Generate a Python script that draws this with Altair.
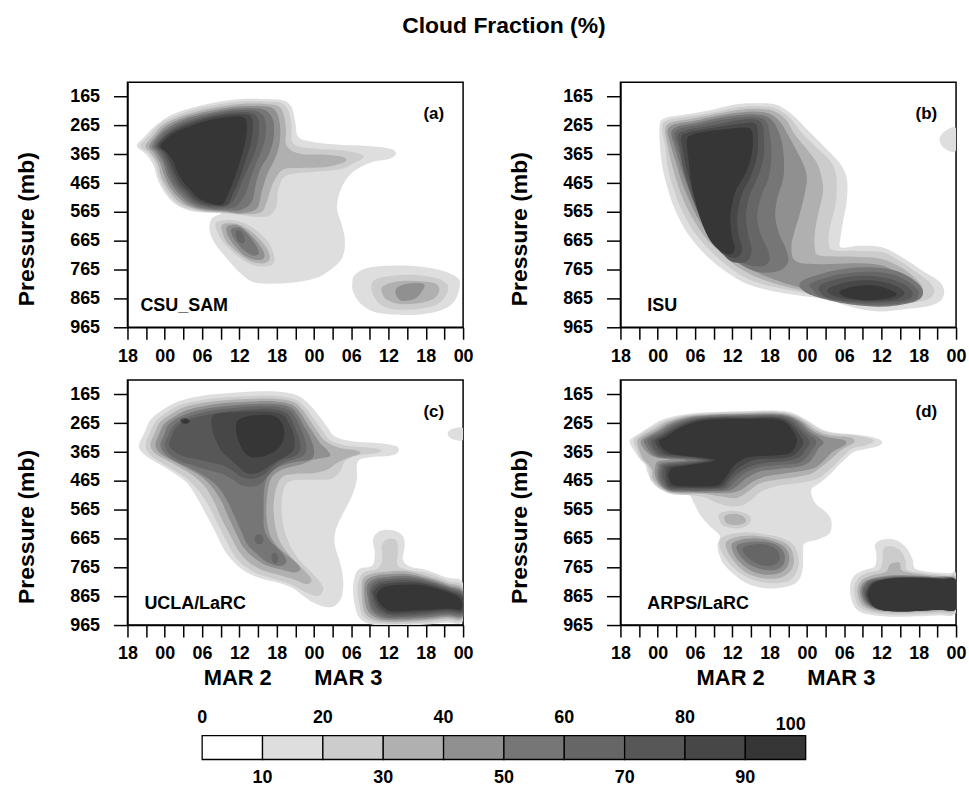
import json
import altair as alt
import pandas as pd

FONT = "Liberation Sans"

# ---------------- data ----------------
HOURS = 54            # 18Z Mar 1 -> 00Z Mar 4
P_MIN, P_MAX = 115, 965

# Filled-contour outlines: (hours since 18Z Mar 1, pressure in mb)
# ---- panel (a) CSU_SAM ----
A1_MAIN = [(1.5, 336), (2.7, 305), (4.5, 265), (6.9, 230), (10.1, 205), (13.9, 186), (18.2, 173),
           (22.4, 173), (25.1, 178), (26.4, 201), (27.0, 253), (27.5, 305), (29.9, 322), (34.2, 332),
           (38.5, 336), (42.2, 345), (43.2, 363), (42.2, 380), (39.5, 391), (36.9, 417), (35.3, 449),
           (34.2, 495), (33.7, 553), (34.5, 610), (35.0, 668), (34.5, 726), (32.6, 766), (30.2, 795),
           (26.7, 810), (22.4, 814), (20.0, 806), (17.9, 772), (16.0, 726), (14.2, 679), (13.2, 628),
           (13.6, 587), (15.0, 570), (12.3, 567), (9.6, 558), (7.5, 535), (5.9, 495), (4.8, 449),
           (4.2, 403), (2.9, 363)]
A1_BR = [(36.6, 783), (38.5, 760), (42.7, 751), (47.0, 754), (50.7, 769), (53.2, 795), (53.4, 829),
         (52.6, 875), (50.7, 904), (47.0, 921), (42.7, 921), (39.5, 910), (37.4, 881), (36.3, 841),
         (36.2, 806)]
A2_MAIN = [(2.1, 336), (3.5, 299), (5.1, 262), (7.5, 234), (10.7, 209), (14.4, 193), (18.2, 182),
           (22.4, 182), (24.8, 188), (25.9, 213), (26.4, 265), (26.7, 328), (29.9, 345), (34.2, 351),
           (37.4, 363), (37.9, 378), (36.3, 397), (34.2, 417), (29.9, 426), (25.6, 438), (24.3, 484),
           (24.0, 541), (23.0, 576), (20.8, 582), (18.7, 576), (16.0, 570), (12.3, 564), (9.6, 553),
           (7.7, 530), (6.1, 489), (5.1, 443), (4.5, 397), (3.3, 359)]
A2_LOW = [(14.2, 605), (16.0, 593), (18.2, 599), (20.3, 622), (22.4, 662), (23.5, 708), (23.5, 743),
          (22.2, 754), (20.3, 749), (18.2, 726), (16.0, 685), (14.7, 645)]
A2_BR = [(39.5, 806), (41.7, 789), (45.9, 783), (49.7, 795), (51.5, 818), (51.3, 852), (49.7, 887),
         (46.5, 902), (42.7, 902), (40.6, 884), (39.4, 846)]
A3_MAIN = [(2.9, 336), (4.2, 299), (5.6, 265), (8.0, 238), (11.2, 216), (15.0, 199), (18.2, 190),
           (22.2, 190), (24.3, 198), (25.1, 224), (25.5, 276), (25.6, 334), (27.8, 363), (32.0, 366),
           (34.7, 374), (35.0, 391), (32.0, 409), (27.8, 412), (25.1, 417), (23.5, 461), (22.4, 530),
           (21.4, 567), (18.2, 573), (16.0, 567), (12.3, 562), (9.9, 548), (8.0, 524), (6.5, 484),
           (5.4, 440), (4.9, 397), (3.7, 359)]
A3_LOW = [(15.2, 610), (17.1, 605), (18.7, 616), (20.6, 645), (22.4, 691), (22.9, 726), (21.9, 743),
          (20.0, 737), (18.2, 714), (16.3, 679), (15.4, 645)]
A3_BR = [(41.1, 823), (43.3, 806), (46.5, 804), (49.4, 812), (50.2, 835), (49.4, 864), (47.0, 881),
         (43.8, 884), (41.7, 869), (41.0, 846)]
A4_MAIN = [(3.5, 336), (4.7, 299), (6.1, 268), (8.5, 242), (11.8, 221), (15.5, 205), (18.4, 198),
           (21.9, 198), (23.5, 207), (24.3, 236), (24.6, 288), (24.3, 345), (23.5, 391), (22.4, 438),
           (21.6, 495), (20.8, 553), (18.2, 569), (16.0, 564), (12.6, 558), (10.1, 544), (8.4, 518),
           (6.9, 481), (5.9, 438), (5.3, 397), (4.3, 359)]
A4_LOW = [(16.0, 616), (17.6, 610), (19.0, 628), (20.6, 662), (21.9, 702), (21.9, 726), (20.6, 731),
          (18.7, 714), (17.1, 679), (16.1, 645)]
A4_BR = [(43.3, 829), (44.9, 814), (47.3, 812), (47.8, 823), (47.0, 852), (45.9, 869), (44.1, 873),
         (43.2, 852)]
A5_MAIN = [(4.0, 336), (5.1, 299), (6.7, 271), (9.1, 245), (12.3, 226), (15.8, 211), (18.7, 205),
           (21.4, 207), (22.7, 221), (23.5, 253), (23.5, 311), (22.7, 368), (21.4, 415), (20.6, 472),
           (20.0, 530), (18.2, 558), (16.0, 560), (12.8, 555), (10.4, 539), (8.8, 512), (7.4, 478),
           (6.3, 435), (5.8, 397), (4.8, 359)]
A5_LOW = [(16.8, 622), (18.1, 620), (19.2, 639), (20.6, 679), (21.1, 708), (20.2, 716), (18.7, 697),
          (17.4, 666), (16.7, 639)]
A6_MAIN = [(4.4, 336), (5.4, 302), (7.1, 274), (9.5, 250), (12.6, 230), (15.9, 216), (18.7, 212),
           (20.9, 216), (22.0, 236), (22.3, 276), (21.9, 334), (20.8, 391), (19.9, 443), (19.0, 501),
           (17.6, 544), (15.8, 553), (13.1, 550), (10.7, 534), (9.2, 507), (7.7, 474), (6.7, 433),
           (6.1, 397), (5.2, 359)]
A6_LOW = [(17.5, 631), (18.3, 633), (18.8, 654), (18.7, 674), (17.9, 668), (17.5, 651)]
A7_MAIN = [(4.7, 336), (5.8, 304), (7.4, 277), (9.8, 254), (12.8, 235), (16.0, 222), (18.7, 219),
           (20.3, 224), (21.1, 247), (21.1, 299), (20.6, 351), (19.5, 409), (18.4, 461), (17.4, 512),
           (16.0, 544), (13.4, 546), (11.0, 530), (9.5, 502), (8.1, 470), (7.1, 430), (6.5, 396),
           (5.6, 359)]
A8_MAIN = [(5.0, 336), (6.0, 306), (7.6, 281), (10.1, 259), (13.1, 239), (16.1, 228), (18.4, 226),
           (19.8, 232), (20.2, 265), (19.9, 322), (19.1, 380), (18.2, 438), (17.1, 495), (16.0, 539),
           (13.6, 541), (11.2, 524), (9.9, 497), (8.5, 466), (7.5, 426), (6.9, 395), (6.0, 359)]
A9_MAIN = [(5.3, 336), (6.4, 309), (8.0, 285), (10.4, 265), (13.4, 245), (16.3, 235), (18.2, 234),
           (19.1, 247), (19.2, 288), (18.7, 345), (17.9, 403), (17.0, 461), (16.0, 512), (15.2, 539),
           (13.6, 537), (11.5, 518), (10.3, 493), (9.0, 461), (7.9, 421), (7.4, 391), (6.3, 359)]

PANEL_A_LEVELS = {
    1: [A1_MAIN, A1_BR], 2: [A2_MAIN, A2_LOW, A2_BR], 3: [A3_MAIN, A3_LOW, A3_BR],
    4: [A4_MAIN, A4_LOW, A4_BR], 5: [A5_MAIN, A5_LOW], 6: [A6_MAIN, A6_LOW],
    7: [A7_MAIN], 8: [A8_MAIN], 9: [A9_MAIN],
}

# ---- panel (b) ISU ----
B1_MAIN = [(6.3, 265), (7.2, 239), (10.7, 226), (15.0, 209), (18.2, 193), (21.4, 188), (25.1, 193),
           (27.8, 230), (30.2, 282), (32.6, 334), (34.7, 380), (35.9, 417), (36.5, 461), (36.4, 530),
           (35.8, 599), (35.4, 656), (35.5, 688), (38.5, 682), (42.2, 688), (45.4, 723), (48.6, 769),
           (51.3, 806), (52.1, 841), (51.4, 875), (49.1, 894), (45.4, 903), (41.7, 910), (37.4, 896),
           (33.1, 869), (28.8, 855), (24.0, 837), (20.3, 814), (17.1, 774), (14.4, 728), (12.2, 679),
           (10.3, 622), (8.7, 553), (7.6, 484), (6.8, 415), (6.4, 345)]
B1_SMALL = [(51.4, 305), (52.6, 279), (54.0, 276), (54.0, 351), (52.6, 351), (51.6, 332)]
B2_MAIN = [(6.7, 271), (7.7, 246), (11.0, 234), (15.2, 218), (18.4, 203), (21.4, 198), (24.8, 204),
           (27.2, 237), (29.1, 288), (31.5, 340), (33.7, 386), (34.6, 426), (34.8, 472), (34.6, 541),
           (33.8, 610), (33.5, 662), (34.2, 697), (38.5, 700), (42.2, 705), (45.1, 737), (47.8, 777),
           (49.9, 812), (50.5, 843), (49.4, 869), (45.9, 884), (41.7, 894), (37.4, 881), (33.1, 858),
           (28.8, 843), (24.3, 823), (20.7, 799), (17.7, 760), (15.2, 714), (13.0, 666), (11.1, 608),
           (9.5, 541), (8.4, 474), (7.6, 409), (7.2, 340)]
B3_MAIN = [(7.2, 276), (8.3, 253), (11.3, 242), (15.5, 224), (18.6, 212), (21.4, 207), (24.5, 214),
           (26.6, 244), (28.0, 294), (29.9, 345), (31.5, 391), (32.3, 438), (32.6, 495), (31.9, 564),
           (31.3, 633), (31.3, 691), (32.1, 716), (37.4, 720), (41.7, 726), (44.9, 754), (47.3, 792),
           (48.6, 827), (48.1, 858), (45.4, 875), (41.7, 884), (37.4, 875), (33.1, 852), (28.8, 835),
           (24.7, 812), (21.3, 785), (18.4, 749), (15.9, 702), (13.7, 654), (11.9, 597), (10.3, 532),
           (9.2, 468), (8.3, 403), (7.6, 336)]
B4_MAIN = [(7.6, 282), (8.8, 260), (11.8, 249), (15.8, 231), (18.7, 221), (21.4, 216), (24.0, 224),
           (25.7, 253), (27.0, 299), (28.3, 351), (29.5, 403), (30.0, 449), (29.6, 507), (28.8, 576),
           (28.0, 633), (27.5, 691), (28.3, 737), (32.1, 746), (37.4, 743), (41.7, 749), (44.6, 774),
           (46.7, 806), (47.8, 838), (47.0, 864), (44.3, 875), (40.6, 878), (36.9, 871), (32.6, 850),
           (28.8, 827), (25.1, 802), (21.9, 774), (19.1, 739), (16.6, 694), (14.4, 647), (12.6, 591),
           (11.1, 526), (9.9, 463), (9.0, 397), (8.1, 334)]
B5_MAIN = [(8.2, 288), (9.4, 267), (12.2, 256), (16.0, 238), (18.8, 229), (21.4, 226), (23.7, 235),
           (25.0, 265), (25.9, 317), (26.3, 380), (26.2, 449), (25.3, 512), (24.9, 576), (25.5, 639),
           (26.6, 691), (27.0, 737), (25.6, 769), (22.4, 774), (19.5, 749), (17.1, 705), (15.1, 656),
           (13.2, 599), (11.8, 532), (10.6, 466), (9.6, 401), (8.7, 336)]
B5_ARM = [(29.1, 806), (34.2, 769), (39.5, 757), (44.3, 769), (47.5, 806), (48.7, 843), (47.5, 875),
          (42.7, 893), (37.4, 887), (32.6, 866), (29.6, 841)]
B6_MAIN = [(8.7, 294), (9.9, 274), (12.6, 262), (16.3, 246), (19.0, 237), (21.6, 235), (23.3, 247),
           (24.0, 288), (24.3, 368), (23.8, 449), (22.7, 507), (22.0, 576), (22.5, 639), (23.6, 691),
           (24.0, 731), (22.7, 754), (19.8, 743), (17.6, 702), (15.7, 654), (13.9, 599), (12.4, 535),
           (11.2, 466), (10.1, 403), (9.2, 340)]
B6_ARM = [(30.7, 812), (35.3, 781), (40.1, 772), (44.3, 785), (47.0, 818), (48.0, 846), (47.0, 873),
          (42.2, 887), (36.9, 880), (32.3, 858), (31.0, 835)]
B7_MAIN = [(9.2, 299), (10.4, 282), (13.0, 271), (16.7, 256), (19.2, 246), (21.8, 244), (22.9, 265),
           (23.1, 317), (23.0, 380), (22.0, 449), (20.8, 507), (20.2, 576), (20.5, 639), (21.1, 697),
           (20.3, 737), (17.9, 737), (16.0, 697), (14.5, 651), (13.1, 597), (11.9, 535), (10.8, 466),
           (10.0, 405), (9.6, 345)]
B7_ARM = [(32.1, 820), (36.1, 792), (40.5, 787), (44.2, 803), (46.5, 829), (47.0, 855), (45.7, 872),
          (41.1, 880), (36.3, 875), (32.9, 858)]
B8_MAIN = [(9.8, 305), (10.8, 290), (13.4, 279), (17.1, 265), (19.5, 258), (21.5, 256), (22.1, 282),
           (22.1, 345), (21.8, 391), (20.8, 449), (19.6, 501), (18.8, 576), (19.0, 645), (19.6, 694),
           (18.7, 723), (16.6, 712), (15.1, 675), (13.7, 622), (12.6, 558), (11.5, 484), (10.7, 420),
           (10.1, 357)]
B8_ARM = [(33.4, 832), (36.9, 806), (40.9, 803), (43.9, 818), (45.7, 843), (44.6, 866), (40.9, 875),
          (36.9, 869), (34.2, 855)]
B9_MAIN = [(10.7, 317), (11.5, 297), (14.0, 285), (17.6, 276), (19.9, 272), (21.1, 282), (21.3, 328),
           (20.9, 386), (19.9, 440), (18.5, 495), (17.7, 576), (17.9, 645), (18.4, 691), (17.6, 712),
           (16.0, 698), (14.5, 666), (13.2, 608), (12.2, 541), (11.4, 466), (11.0, 391)]
B9_ARM = [(35.3, 841), (37.9, 822), (41.1, 821), (43.3, 835), (44.4, 852), (42.7, 866), (39.5, 871),
          (36.3, 861)]

PANEL_B_LEVELS = {
    1: [B1_MAIN, B1_SMALL], 2: [B2_MAIN], 3: [B3_MAIN], 4: [B4_MAIN],
    5: [B5_MAIN, B5_ARM], 6: [B6_MAIN, B6_ARM], 7: [B7_MAIN, B7_ARM],
    8: [B8_MAIN, B8_ARM], 9: [B9_MAIN, B9_ARM],
}

# ---- panel (c) UCLA/LaRC ----
C1_MAIN = [(1.9, 336), (2.7, 299), (3.7, 253), (5.3, 224), (8.0, 190), (11.8, 170), (16.0, 161),
           (20.3, 155), (24.0, 155), (27.2, 167), (29.1, 196), (30.7, 236), (32.1, 276), (33.4, 311),
           (36.3, 328), (40.6, 334), (43.3, 345), (43.5, 366), (42.2, 378), (39.5, 382), (37.4, 391),
           (36.9, 415), (36.9, 461), (36.3, 507), (35.3, 553), (34.2, 599), (33.4, 645), (33.4, 691),
           (34.2, 749), (34.7, 806), (34.5, 864), (33.4, 898), (31.8, 902), (29.9, 887), (28.3, 864),
           (26.7, 838), (24.6, 820), (21.9, 806), (19.2, 783), (17.1, 746), (15.5, 702), (14.2, 645),
           (12.8, 587), (11.2, 524), (9.6, 472), (7.5, 438), (5.3, 409), (3.2, 382), (2.0, 357)]
C1_SMALL = [(51.6, 294), (52.6, 282), (54.0, 282), (54.0, 322), (52.6, 322), (51.7, 311)]
C1_BR = [(36.6, 795), (37.4, 769), (39.4, 758), (39.8, 714), (39.5, 668), (40.6, 639), (42.7, 636),
         (44.3, 656), (44.6, 691), (44.3, 737), (45.4, 762), (48.1, 774), (51.3, 800), (54.0, 820),
         (54.0, 950), (51.3, 956), (47.0, 965), (42.7, 967), (39.5, 964), (37.4, 942), (36.6, 898),
         (36.3, 841)]
C2_MAIN = [(2.9, 340), (3.6, 299), (4.5, 259), (6.1, 230), (8.5, 201), (12.0, 184), (16.0, 175),
           (20.3, 170), (24.0, 170), (27.0, 182), (28.6, 209), (29.9, 247), (31.3, 288), (32.7, 325),
           (35.3, 343), (39.5, 351), (40.9, 360), (39.5, 371), (36.9, 378), (35.0, 397), (34.2, 432),
           (32.6, 458), (28.8, 461), (26.2, 466), (25.1, 495), (24.8, 553), (25.1, 622), (26.2, 691),
           (27.8, 743), (29.9, 789), (31.5, 835), (30.7, 864), (28.8, 852), (26.2, 823), (23.5, 804),
           (21.1, 789), (18.8, 760), (17.1, 720), (15.8, 668), (14.4, 610), (13.1, 553), (11.5, 501),
           (9.6, 458), (7.2, 424), (5.1, 397), (3.5, 371)]
C2_BR = [(37.3, 804), (38.2, 781), (40.2, 769), (41.0, 737), (40.9, 691), (41.9, 666), (43.3, 673),
         (43.5, 714), (43.5, 758), (45.4, 774), (48.3, 785), (51.6, 812), (54.0, 832), (54.0, 944),
         (51.3, 949), (47.0, 958), (42.7, 961), (39.8, 956), (37.9, 935), (37.3, 893), (37.0, 841)]
C3_MAIN = [(3.7, 340), (4.4, 299), (5.2, 262), (6.8, 236), (9.1, 209), (12.4, 193), (16.3, 184),
           (20.3, 180), (23.9, 180), (26.7, 191), (28.2, 219), (29.4, 256), (30.6, 294), (31.9, 328),
           (34.2, 351), (36.9, 359), (37.4, 371), (35.3, 386), (33.7, 403), (32.1, 426), (29.9, 438),
           (27.2, 440), (25.1, 449), (24.0, 484), (23.5, 553), (23.8, 622), (24.6, 679), (26.2, 726),
           (28.0, 766), (29.6, 806), (28.8, 823), (26.7, 806), (24.0, 789), (21.6, 774), (19.5, 746),
           (17.9, 708), (16.6, 656), (15.2, 599), (14.0, 541), (12.6, 489), (10.7, 449), (8.3, 417),
           (6.1, 391), (4.4, 368)]
C3_BR = [(37.8, 812), (39.0, 789), (41.1, 781), (44.3, 777), (48.1, 795), (51.6, 820), (54.0, 841),
         (54.0, 940), (51.3, 942), (47.0, 951), (42.7, 955), (40.1, 949), (38.4, 928), (37.8, 887)]
C4_MAIN = [(4.5, 340), (5.1, 302), (5.9, 267), (7.5, 242), (9.6, 219), (12.8, 203), (16.6, 193),
           (20.3, 189), (23.8, 189), (26.4, 200), (27.8, 228), (28.8, 262), (29.9, 299), (31.0, 334),
           (32.1, 357), (32.6, 378), (31.3, 386), (29.9, 391), (28.3, 405), (26.2, 417), (24.3, 432),
           (23.0, 461), (22.4, 530), (22.4, 599), (23.0, 656), (24.3, 697), (26.2, 731), (27.8, 766),
           (27.0, 783), (24.8, 772), (22.4, 758), (20.3, 731), (18.7, 697), (17.5, 647), (16.3, 593),
           (15.1, 535), (13.6, 486), (11.8, 449), (9.2, 417), (6.9, 391), (5.2, 368)]
C4_BR = [(38.2, 820), (39.4, 797), (41.7, 789), (44.9, 787), (48.3, 803), (51.7, 827), (54.0, 848),
         (54.0, 935), (51.3, 936), (47.0, 946), (42.7, 949), (40.3, 942), (38.8, 921), (38.2, 881)]
C5_MAIN = [(5.3, 340), (5.9, 305), (6.5, 273), (8.0, 247), (10.1, 228), (13.2, 212), (16.8, 203),
           (20.3, 198), (23.7, 198), (26.2, 209), (27.4, 237), (28.3, 271), (29.3, 309), (29.9, 345),
           (30.0, 374), (29.4, 391), (27.8, 397), (26.2, 403), (24.3, 417), (22.7, 443), (22.0, 495),
           (21.9, 576), (22.0, 633), (23.0, 674), (24.6, 708), (25.6, 743), (24.6, 760), (22.4, 746),
           (20.7, 716), (19.2, 682), (18.3, 639), (17.2, 587), (16.0, 532), (14.5, 484), (12.6, 451),
           (10.0, 420), (7.7, 397), (6.0, 371)]
C5_BR = [(38.6, 827), (39.9, 804), (42.1, 797), (45.3, 795), (48.6, 810), (51.8, 833), (54.0, 853),
         (54.0, 931), (51.3, 931), (47.0, 940), (42.7, 943), (40.5, 935), (39.2, 914), (38.7, 875)]
C6_MAIN = [(6.0, 340), (6.5, 309), (7.2, 279), (8.5, 254), (10.6, 236), (13.6, 221), (17.1, 212),
           (20.3, 207), (23.6, 207), (25.9, 219), (27.0, 245), (27.8, 279), (28.5, 317), (28.8, 351),
           (28.3, 378), (26.7, 391), (24.6, 409), (23.0, 438), (21.6, 472), (20.3, 484), (18.4, 481),
           (17.0, 461), (15.2, 440), (13.1, 428), (10.7, 412), (8.5, 397), (6.7, 371)]
C6_SPOT1 = [(20.6, 656), (21.4, 651), (21.9, 668), (21.4, 685), (20.6, 679)]
C6_SPOT2 = [(23.2, 720), (23.9, 714), (24.3, 737), (23.9, 751), (23.3, 743)]
C6_BR = [(39.0, 834), (40.2, 811), (42.5, 804), (45.7, 803), (48.9, 817), (52.0, 838), (54.0, 859),
         (54.0, 926), (51.3, 925), (47.0, 934), (42.7, 938), (40.7, 928), (39.5, 908), (39.0, 871)]
C7_MAIN = [(6.7, 340), (7.1, 311), (7.7, 283), (9.1, 260), (11.1, 244), (14.0, 230), (17.4, 221),
           (20.3, 216), (23.5, 216), (25.5, 228), (26.4, 253), (27.1, 288), (27.7, 322), (27.8, 355),
           (27.0, 378), (25.1, 391), (23.5, 412), (21.9, 443), (20.2, 458), (18.4, 451), (17.1, 432),
           (15.5, 412), (13.4, 401), (11.0, 389), (8.8, 378), (7.4, 359)]
C7_BR = [(39.3, 841), (40.5, 818), (42.8, 811), (46.0, 810), (49.1, 823), (52.1, 844), (54.0, 865),
         (54.0, 921), (51.3, 919), (47.0, 928), (42.7, 932), (40.9, 921), (39.9, 901), (39.4, 866)]
C8_MAIN = [(13.6, 242), (15.0, 230), (17.6, 226), (20.3, 224), (23.4, 226), (25.1, 237), (25.9, 262),
           (26.6, 294), (26.9, 328), (26.7, 357), (25.6, 378), (24.0, 397), (22.4, 420), (20.8, 438),
           (19.2, 438), (17.9, 417), (16.6, 391), (15.2, 363), (14.2, 322), (13.6, 282)]
C8_SPOT = [(8.5, 253), (9.3, 247), (10.1, 256), (9.6, 267), (8.8, 267)]
C8_BR = [(39.6, 848), (40.8, 825), (43.2, 818), (46.4, 817), (49.4, 830), (52.2, 850), (54.0, 871),
         (54.0, 916), (51.3, 913), (47.0, 921), (42.7, 925), (41.1, 914), (40.2, 894), (39.7, 864)]
C9_MAIN = [(17.6, 259), (19.0, 242), (21.4, 236), (23.5, 239), (24.7, 259), (25.2, 288), (25.1, 322),
           (24.3, 351), (23.0, 371), (21.4, 382), (19.8, 382), (18.7, 363), (17.9, 328), (17.5, 294)]
C9_SPOT = [(8.8, 256), (9.5, 251), (9.9, 260), (9.3, 266)]
C9_BR = [(40.1, 858), (41.2, 834), (43.5, 826), (46.7, 825), (49.7, 838), (52.4, 858), (53.7, 878),
         (53.7, 910), (51.3, 908), (47.0, 914), (43.0, 918), (41.5, 908), (40.5, 887)]

PANEL_C_LEVELS = {
    1: [C1_MAIN, C1_SMALL, C1_BR], 2: [C2_MAIN, C2_BR], 3: [C3_MAIN, C3_BR], 4: [C4_MAIN, C4_BR],
    5: [C5_MAIN, C5_BR], 6: [C6_MAIN, C6_SPOT1, C6_SPOT2, C6_BR], 7: [C7_MAIN, C7_BR],
    8: [C8_MAIN, C8_SPOT, C8_BR], 9: [C9_MAIN, C9_SPOT, C9_BR],
}

# ---- panel (d) ARPS/LaRC ----
D1_MAIN = [(1.5, 325), (2.7, 305), (4.8, 276), (6.9, 251), (10.7, 233), (15.0, 226), (20.3, 222),
           (25.1, 221), (27.8, 230), (29.9, 253), (32.1, 282), (34.2, 297), (37.4, 303), (40.6, 313),
           (42.1, 328), (41.4, 345), (39.3, 355), (37.4, 366), (36.1, 391), (34.7, 420), (33.4, 449),
           (32.1, 472), (30.7, 495), (31.3, 541), (32.9, 570), (33.9, 599), (33.7, 645), (31.8, 668),
           (29.6, 682), (29.4, 726), (29.3, 772), (28.6, 812), (26.7, 832), (23.5, 838), (20.3, 820),
           (17.9, 783), (16.3, 743), (15.6, 691), (16.0, 656), (14.4, 622), (12.8, 582), (11.8, 541),
           (11.0, 512), (9.1, 504), (6.9, 489), (5.1, 466), (4.3, 432), (4.0, 409), (3.2, 391),
           (2.1, 357)]
D1_BR = [(37.0, 823), (37.7, 792), (39.3, 774), (40.9, 762), (41.2, 726), (41.0, 685), (42.2, 668),
         (44.3, 670), (46.0, 697), (47.0, 737), (47.4, 769), (49.7, 781), (52.9, 785), (54.0, 789),
         (54.0, 921), (51.3, 931), (47.0, 935), (42.7, 935), (39.6, 927), (37.9, 908), (37.1, 869)]
D2_MAIN = [(2.1, 325), (3.1, 306), (5.1, 280), (7.3, 254), (10.8, 236), (15.1, 229), (20.3, 226),
           (25.1, 224), (27.7, 234), (29.8, 256), (31.8, 285), (34.0, 300), (37.3, 306), (40.2, 318),
           (40.7, 329), (39.5, 341), (37.4, 352), (35.9, 378), (34.5, 409), (33.0, 438), (31.3, 461),
           (28.8, 472), (25.6, 481), (22.7, 501), (21.1, 530), (19.5, 550), (17.6, 553), (15.5, 541),
           (13.4, 521), (10.7, 514), (8.0, 509), (6.1, 489), (4.9, 461), (4.7, 432), (4.2, 409),
           (3.3, 389), (2.6, 357)]
D2_LOW = [(16.0, 668), (17.6, 651), (20.3, 643), (23.5, 651), (26.4, 666), (28.0, 691), (28.7, 737),
          (28.3, 783), (27.0, 812), (24.0, 820), (21.1, 806), (18.7, 777), (17.0, 737), (16.1, 702)]
D2_SMALL = [(16.0, 578), (18.2, 568), (20.6, 582), (20.9, 608), (19.3, 629), (16.7, 622), (15.9, 599)]
D2_BR = [(37.7, 827), (38.4, 800), (39.8, 783), (41.7, 772), (42.2, 737), (42.3, 702), (43.5, 691),
         (45.1, 708), (45.9, 743), (46.2, 774), (49.1, 785), (52.6, 792), (54.0, 797), (54.0, 916),
         (51.3, 924), (47.0, 928), (42.7, 928), (40.0, 919), (38.4, 901), (37.7, 864)]
D3_MAIN = [(2.7, 325), (3.6, 307), (5.6, 284), (7.6, 259), (11.1, 239), (15.2, 233), (20.3, 229),
           (25.1, 228), (27.6, 237), (29.5, 259), (31.5, 290), (33.8, 307), (36.9, 313), (37.7, 328),
           (36.9, 341), (35.4, 359), (33.9, 389), (32.3, 417), (30.7, 440), (28.3, 451), (25.1, 461),
           (22.4, 474), (20.6, 501), (18.7, 524), (16.0, 518), (13.6, 510), (10.7, 509), (8.0, 504),
           (6.3, 484), (5.2, 455), (5.1, 428), (4.5, 409), (3.6, 387), (3.0, 357)]
D3_LOW = [(17.0, 677), (18.4, 661), (20.8, 654), (23.8, 661), (26.2, 677), (27.5, 702), (27.9, 743),
          (27.4, 777), (25.9, 800), (23.5, 804), (21.1, 792), (19.2, 766), (17.8, 731), (17.1, 702)]
D3_SMALL = [(16.8, 587), (18.4, 579), (19.9, 590), (20.1, 608), (18.7, 618), (17.1, 612)]
D3_BR = [(38.2, 832), (39.0, 806), (40.6, 792), (42.7, 781), (43.4, 754), (44.9, 749), (45.4, 777),
         (48.3, 789), (52.4, 797), (54.0, 804), (54.0, 910), (51.3, 917), (47.0, 921), (42.8, 921),
         (40.3, 912), (38.8, 894), (38.2, 861)]
D4_MAIN = [(3.3, 325), (4.2, 309), (6.0, 288), (8.0, 262), (11.2, 242), (15.3, 235), (20.3, 233),
           (25.0, 231), (27.5, 241), (29.3, 262), (31.1, 294), (33.4, 313), (35.9, 322), (36.3, 336),
           (35.5, 348), (34.2, 363), (32.9, 391), (31.5, 417), (29.9, 428), (26.7, 438), (23.5, 449),
           (21.4, 466), (19.5, 495), (17.6, 507), (14.4, 507), (10.7, 505), (8.0, 502), (6.4, 481),
           (5.6, 449), (5.6, 417), (6.0, 398), (8.0, 391), (6.0, 385), (4.5, 371), (3.5, 345)]
D4_LOW = [(17.9, 685), (19.2, 670), (21.4, 664), (23.9, 670), (25.9, 686), (27.0, 712), (27.1, 746),
          (26.4, 774), (24.8, 789), (22.7, 789), (20.8, 774), (19.3, 749), (18.3, 720)]
D4_BR = [(38.6, 835), (39.4, 812), (41.1, 800), (43.5, 792), (46.5, 792), (50.2, 797), (54.0, 808),
         (54.0, 905), (51.3, 912), (47.0, 916), (43.0, 916), (40.6, 908), (39.2, 889), (38.6, 861)]
D5_MAIN = [(3.8, 325), (4.7, 311), (6.4, 291), (8.4, 266), (11.5, 245), (15.4, 238), (20.3, 236),
           (24.9, 235), (27.4, 244), (29.1, 267), (30.6, 297), (32.1, 317), (32.7, 334), (31.9, 351),
           (31.3, 374), (30.2, 403), (28.3, 417), (25.1, 424), (22.4, 432), (20.3, 455), (18.7, 484),
           (17.1, 500), (13.9, 502), (10.7, 502), (8.0, 499), (6.6, 478), (6.0, 449), (6.1, 419),
           (6.7, 403), (10.7, 393), (6.7, 385), (5.2, 373), (4.2, 348)]
D5_LOW = [(18.7, 691), (20.0, 679), (21.9, 675), (24.0, 679), (25.6, 694), (26.4, 720), (26.3, 751),
          (25.2, 772), (23.2, 774), (21.4, 762), (19.9, 740), (19.0, 716)]
D5_BR = [(38.9, 838), (39.7, 813), (41.4, 802), (43.8, 796), (46.7, 796), (50.5, 799), (54.0, 808),
         (54.0, 903), (51.3, 910), (47.0, 913), (43.2, 913), (40.9, 905), (39.5, 887), (38.9, 861)]
D6_MAIN = [(4.4, 325), (5.2, 312), (6.8, 295), (8.7, 269), (11.8, 249), (15.5, 242), (20.3, 239),
           (24.9, 238), (27.1, 247), (28.7, 271), (30.0, 299), (31.3, 320), (31.5, 336), (30.9, 355),
           (30.0, 382), (28.6, 403), (25.6, 410), (22.4, 417), (20.0, 438), (18.4, 466), (17.0, 493),
           (13.9, 499), (10.7, 499), (8.0, 495), (6.8, 474), (6.4, 449), (6.5, 421), (7.2, 406),
           (12.6, 393), (7.2, 382), (5.8, 373), (4.8, 348)]
D6_LOW = [(19.7, 697), (21.1, 686), (23.0, 685), (24.7, 697), (25.6, 720), (25.4, 746), (24.1, 760),
          (22.3, 755), (20.8, 737), (19.9, 716)]
D6_BR = [(39.1, 842), (40.0, 814), (41.9, 804), (44.3, 798), (47.3, 798), (51.0, 802), (54.0, 810),
         (54.0, 905), (51.3, 911), (47.0, 914), (43.4, 914), (41.2, 908), (39.8, 889), (39.2, 864)]
D7_MAIN = [(5.0, 325), (5.8, 314), (7.2, 297), (9.1, 273), (12.0, 251), (15.6, 244), (20.3, 243),
           (24.8, 242), (26.9, 251), (28.3, 274), (29.5, 302), (30.3, 322), (30.4, 338), (29.7, 359),
           (28.8, 382), (26.7, 396), (23.5, 401), (20.6, 417), (18.7, 443), (17.4, 472), (16.6, 489),
           (13.9, 494), (10.7, 494), (8.0, 491), (7.2, 472), (6.8, 449), (6.9, 424), (7.7, 410),
           (13.6, 393), (7.7, 379), (6.3, 371), (5.3, 348)]
D7_BR = [(39.4, 845), (40.3, 817), (42.2, 805), (44.8, 799), (47.8, 799), (51.4, 803), (54.0, 811),
         (54.0, 906), (51.3, 911), (47.0, 916), (43.5, 916), (41.3, 909), (40.0, 889), (39.4, 864)]
D8_MAIN = [(5.6, 325), (6.3, 315), (7.5, 300), (9.4, 276), (12.3, 254), (15.7, 247), (20.3, 246),
           (24.7, 245), (26.7, 256), (27.9, 279), (28.8, 305), (29.4, 325), (29.3, 343), (28.6, 362),
           (27.5, 380), (25.1, 387), (21.9, 391), (19.5, 412), (17.9, 443), (16.8, 474), (16.0, 486),
           (13.9, 489), (10.7, 489), (8.3, 486), (7.5, 470), (7.3, 449), (7.4, 426), (8.1, 415),
           (14.4, 393), (8.1, 375), (6.8, 366), (5.9, 345)]
D8_BR = [(39.6, 849), (40.5, 819), (42.5, 806), (45.1, 800), (48.2, 800), (51.8, 804), (54.0, 811),
         (54.0, 908), (51.3, 912), (47.0, 917), (43.7, 917), (41.5, 910), (40.2, 889), (39.6, 866)]
D9_MAIN = [(6.2, 325), (6.8, 318), (7.9, 304), (9.7, 280), (12.6, 258), (15.8, 251), (20.3, 250),
           (24.6, 250), (26.4, 260), (27.5, 283), (28.2, 309), (28.4, 328), (28.0, 351), (27.0, 371),
           (24.0, 378), (20.8, 382), (18.7, 403), (17.4, 438), (16.5, 466), (15.6, 481), (13.9, 484),
           (10.7, 484), (8.5, 479), (7.9, 461), (7.7, 443), (8.0, 428), (8.8, 417), (15.2, 393),
           (8.8, 373), (7.5, 364), (6.4, 343)]
D9_BR = [(39.8, 852), (40.7, 820), (42.7, 806), (45.4, 802), (48.6, 802), (52.1, 806), (54.0, 812),
         (54.0, 908), (51.3, 912), (47.0, 917), (43.8, 917), (41.7, 910), (40.3, 889)]

PANEL_D_LEVELS = {
    1: [D1_MAIN, D1_BR], 2: [D2_MAIN, D2_LOW, D2_SMALL, D2_BR],
    3: [D3_MAIN, D3_LOW, D3_SMALL, D3_BR], 4: [D4_MAIN, D4_LOW, D4_BR],
    5: [D5_MAIN, D5_LOW, D5_BR], 6: [D6_MAIN, D6_LOW, D6_BR], 7: [D7_MAIN, D7_BR],
    8: [D8_MAIN, D8_BR], 9: [D9_MAIN, D9_BR],
}

PANEL_TAGS = ["(a)", "(b)", "(c)", "(d)"]
PANEL_NAMES = ["CSU_SAM", "ISU", "UCLA/LaRC", "ARPS/LaRC"]

X_TICK_VALUES = list(range(0, 55, 3))
X_TICK_LABELS = ["18", "00", "06", "12", "18", "00", "06", "12", "18", "00"]
Y_TICKS = [165, 265, 365, 465, 565, 665, 765, 865, 965]

LEVEL_COLORS = ["#ffffff", "#dedede", "#cccccc", "#b0b0b0", "#909090",
                "#767676", "#666666", "#575757", "#474747", "#363636"]
CBAR_LO = [0, 10, 20, 30, 40, 50, 60, 70, 80, 90]
CBAR_HI = [10, 20, 30, 40, 50, 60, 70, 80, 90, 100]
CBAR_TOP_LABELS = [0, 20, 40, 60, 80]
CBAR_END_LABEL = [100]
CBAR_BOTTOM_LABELS = [10, 30, 50, 70, 90]

TITLE = "Cloud Fraction (%)"
Y_TITLE = "Pressure (mb)"
MAR_TITLE = "MAR 2" + "\u00a0" * 7 + "MAR 3"

# ---------------- layout ----------------
PW, PH = 337, 246
CB_LEFT_PX, CB_WIDTH_PX = 75, 606          # colorbar relative to panel (c)
CB_MIN = -CB_LEFT_PX * 100.0 / CB_WIDTH_PX
CB_MAX = CB_MIN + PW * 100.0 / CB_WIDTH_PX

LABEL_EXPR = ("datum.value % 6 === 0 ? " + json.dumps(X_TICK_LABELS).replace('"', "'")
              + "[datum.value / 6] : ''")

color_scale = alt.Scale(domain=list(range(10)), range=LEVEL_COLORS)
x_scale = alt.Scale(domain=[0, HOURS], nice=False, zero=False)
y_scale = alt.Scale(domain=[P_MIN, P_MAX], reverse=True, nice=False, zero=False)


def x_enc(field, bottom):
    kw = dict(values=X_TICK_VALUES, labelExpr=LABEL_EXPR, tickSize=12, labelPadding=8,
              labelFlush=False, labelOverlap=False)
    if bottom:
        kw.update(titleX=76, titleY=43, titleAlign="left", titleBaseline="top", titleFontSize=22)
        return alt.X(field, type="quantitative", title=MAR_TITLE, scale=x_scale, axis=alt.Axis(**kw))
    return alt.X(field, type="quantitative", title=None, scale=x_scale, axis=alt.Axis(**kw))


def y_enc(field):
    return alt.Y(field, type="quantitative", title=Y_TITLE, scale=y_scale,
                 axis=alt.Axis(values=Y_TICKS, tickSize=14, labelPadding=14, labelFlush=False,
                               labelOverlap=False, titleX=-89, titleY=147,
                               titleBaseline="bottom", titleAlign="center"))


def contour_layers(levels, bottom):
    layers = []
    for lv in sorted(levels):
        recs = []
        for k, poly in enumerate(levels[lv]):
            for i, (h, p) in enumerate(poly):
                recs.append({"pid": k, "i": i, "h": h, "p": p})
        layers.append(alt.Chart(pd.DataFrame(recs)).mark_line(
            filled=True, color=LEVEL_COLORS[lv], interpolate="cardinal-closed", clip=True
        ).encode(x=x_enc("h", bottom), y=y_enc("p"), order="i:Q", detail="pid:N"))
    return layers


def text_layers(tag, name, name_x):
    tag_t = alt.Chart(pd.DataFrame({"t": [tag]})).mark_text(
        font=FONT, fontSize=17, fontWeight="bold", align="right", baseline="middle",
        color="black").encode(text="t:N", x=alt.value(318), y=alt.value(32))
    name_t = alt.Chart(pd.DataFrame({"t": [name]})).mark_text(
        font=FONT, fontSize=18, fontWeight="bold", align="left", baseline="middle",
        color="black").encode(text="t:N", x=alt.value(name_x), y=alt.value(225))
    return [tag_t, name_t]


def colorbar():
    cb_scale = alt.Scale(domain=[CB_MIN, CB_MAX], nice=False, zero=False)
    bars = alt.Chart(pd.DataFrame({"lo": CBAR_LO, "hi": CBAR_HI,
                                   "level": list(range(10))})).mark_rect(
        stroke="black", strokeWidth=1.3).encode(
        x=alt.X("lo:Q", scale=cb_scale, axis=None),
        x2="hi:Q",
        y=alt.value(357), y2=alt.value(381),
        color=alt.Color("level:O", scale=color_scale, legend=None),
    )
    txt = dict(font=FONT, fontSize=18, fontWeight="bold", baseline="middle", color="black")
    top = alt.Chart(pd.DataFrame({"v": CBAR_TOP_LABELS})).mark_text(**txt).encode(
        x=alt.X("v:Q", scale=cb_scale, axis=None), y=alt.value(339), text="v:Q")
    end = alt.Chart(pd.DataFrame({"v": CBAR_END_LABEL})).mark_text(align="right", **txt).encode(
        x=alt.X("v:Q", scale=cb_scale, axis=None), y=alt.value(346), text="v:Q")
    bot = alt.Chart(pd.DataFrame({"v": CBAR_BOTTOM_LABELS})).mark_text(**txt).encode(
        x=alt.X("v:Q", scale=cb_scale, axis=None), y=alt.value(400), text="v:Q")
    return alt.layer(bars, top, end, bot)


pa = alt.layer(*contour_layers(PANEL_A_LEVELS, False),
               *text_layers(PANEL_TAGS[0], PANEL_NAMES[0], 13)).properties(width=PW, height=PH)
pb = alt.layer(*contour_layers(PANEL_B_LEVELS, False),
               *text_layers(PANEL_TAGS[1], PANEL_NAMES[1], 27)).properties(width=PW, height=PH)
pc_inner = alt.layer(*contour_layers(PANEL_C_LEVELS, True),
                     *text_layers(PANEL_TAGS[2], PANEL_NAMES[2], 17))
pc = alt.layer(pc_inner, colorbar()).resolve_scale(x="independent").properties(width=PW, height=PH)
pd_ = alt.layer(*contour_layers(PANEL_D_LEVELS, True),
                *text_layers(PANEL_TAGS[3], PANEL_NAMES[3], 27)).properties(width=PW, height=PH)

chart = alt.concat(
    pa, pb, pc, pd_, columns=2, bounds="flush",
    spacing=alt.RowColnumber(column=158, row=53),
).properties(
    title=alt.TitleParams(TITLE, font=FONT, fontSize=23, fontWeight="bold", color="black",
                          anchor="middle", offset=44, dx=13),
    padding={"left": 15, "top": 13, "right": 2, "bottom": 2},
).configure_view(
    stroke="black", strokeWidth=1.5
).configure_axis(
    labelFont=FONT, labelFontSize=18, labelFontWeight="bold", labelColor="black",
    titleFont=FONT, titleFontSize=23, titleFontWeight="bold", titleColor="black",
    domainColor="black", domainWidth=1.5, tickColor="black", tickWidth=1.5, grid=False,
)

chart.save("out.html", embed_options={"renderer": "svg", "actions": False})
